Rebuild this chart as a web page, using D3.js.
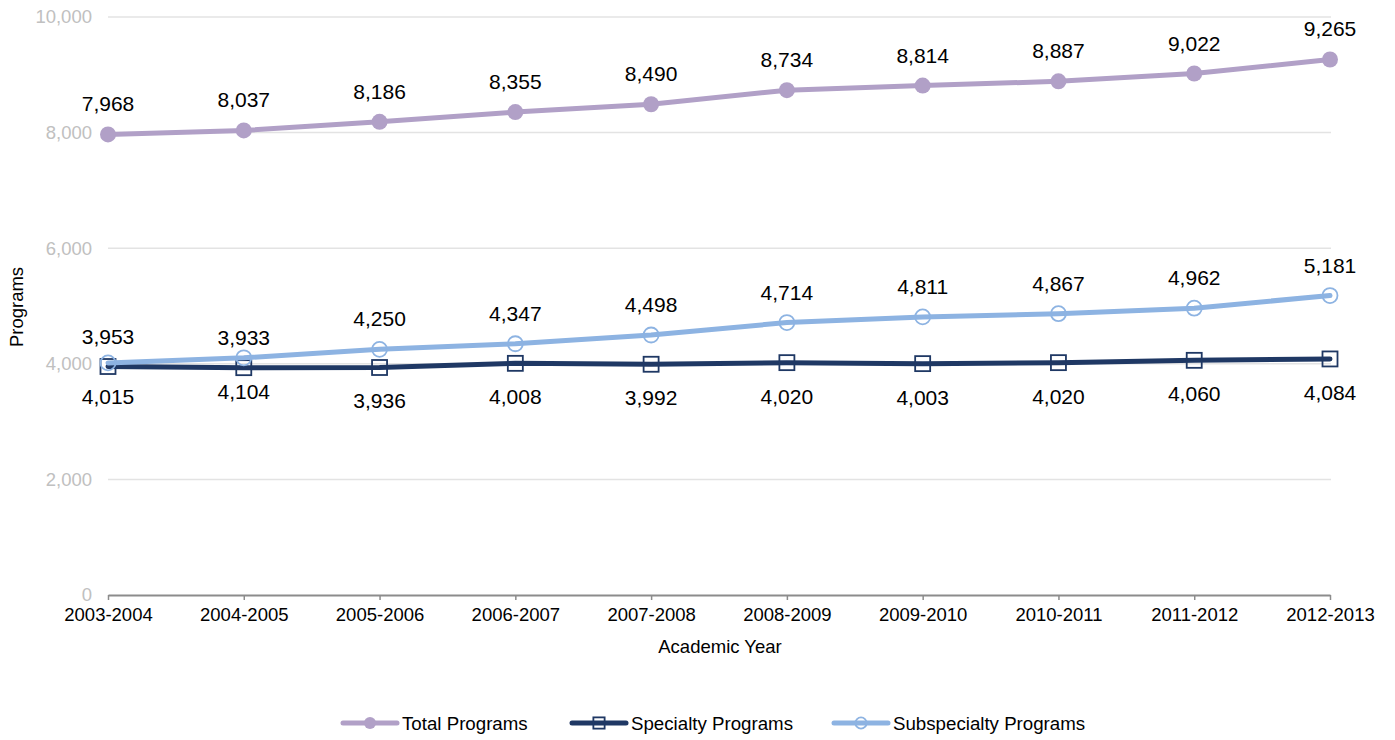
<!DOCTYPE html>
<html><head><meta charset="utf-8">
<script src="https://cdn.jsdelivr.net/npm/d3@7"></script>
<style>body{margin:0;background:#fff}text{font-family:"Liberation Sans",Arial,sans-serif}</style>
</head><body><svg id="c" width="1395" height="740"></svg>
<script>
const years = ["2003-2004","2004-2005","2005-2006","2006-2007","2007-2008","2008-2009","2009-2010","2010-2011","2011-2012","2012-2013"];
const totalPrograms = [7968,8037,8186,8355,8490,8734,8814,8887,9022,9265];
const specialtyPrograms = [3953,3933,3936,4008,3992,4020,4003,4020,4060,4084];
const subspecialtyPrograms = [4015,4104,4250,4347,4498,4714,4811,4867,4962,5181];
// label placement: "a" above, "b" below
const specialtyLabelPos = ["a","a","b","b","b","b","b","b","b","b"];
const subspecialtyLabelPos = ["b","b","a","a","a","a","a","a","a","a"];
const yTicks = [0,2000,4000,6000,8000,10000];

const svg = d3.select("#c");
const x = d3.scalePoint().domain(years).range([108,1330]);
const y = d3.scaleLinear().domain([0,10000]).range([595,17]);
const FONT = "Liberation Sans, Arial, sans-serif";

// gridlines
svg.append("g").selectAll("line").data(yTicks.filter(d=>d>0)).join("line")
  .attr("x1",108).attr("x2",1331).attr("y1",d=>y(d)).attr("y2",d=>y(d))
  .attr("stroke","#e3e3e3").attr("stroke-width",1.5);

// y axis
const ya = svg.append("g").attr("transform","translate(108,0)")
  .call(d3.axisLeft(y).tickValues(yTicks).tickFormat(d3.format(",")).tickSize(0).tickPadding(16));
ya.select(".domain").remove();
ya.selectAll("text").attr("fill","#c0c0c0").style("font-size","18.5px").style("font-family",FONT);

// x axis
const xa = svg.append("g").attr("transform","translate(0,595)")
  .call(d3.axisBottom(x).tickSize(5).tickPadding(8).tickSizeOuter(0));
xa.select(".domain").attr("stroke","#8c8c8c").attr("stroke-width",2);
xa.selectAll(".tick line").attr("stroke","#8c8c8c").attr("stroke-width",1.5);
xa.selectAll("text").attr("fill","#000").style("font-size","18.5px").style("font-family",FONT);

svg.append("text").attr("x",720).attr("y",653).attr("text-anchor","middle").style("font-size","18.5px").text("Academic Year");
svg.append("text").attr("transform","translate(23,307) rotate(-90)").attr("text-anchor","middle").style("font-size","18.5px").text("Programs");

const line = d3.line().x((d,i)=>x(years[i])).y(d=>y(d));
const fmt = d3.format(",");

const series = [
  {name:"Specialty Programs", vals:specialtyPrograms, color:"#1f3864", marker:"square", pos:specialtyLabelPos},
  {name:"Subspecialty Programs", vals:subspecialtyPrograms, color:"#8db3e2", marker:"ocircle", pos:subspecialtyLabelPos},
  {name:"Total Programs", vals:totalPrograms, color:"#b1a0c7", marker:"circle", pos:totalPrograms.map(()=> "a")}
];

function drawMarker(g, type, color, cx, cy, scale){
  scale = scale||1;
  if(type==="circle"){
    g.append("circle").attr("cx",cx).attr("cy",cy).attr("r",8*scale).attr("fill",color);
  } else if(type==="ocircle"){
    g.append("circle").attr("cx",cx).attr("cy",cy).attr("r",7.5*scale).attr("fill","none").attr("stroke",color).attr("stroke-width",1.8);
  } else {
    const s=15*scale;
    g.append("rect").attr("x",cx-s/2).attr("y",cy-s/2).attr("width",s).attr("height",s).attr("fill","none").attr("stroke",color).attr("stroke-width",1.8);
  }
}

series.forEach(s=>{
  const g = svg.append("g");
  g.append("path").attr("d",line(s.vals)).attr("fill","none").attr("stroke",s.color).attr("stroke-width",5).attr("stroke-linejoin","round").attr("stroke-linecap","round");
  s.vals.forEach((v,i)=>drawMarker(g,s.marker,s.color,x(years[i]),y(v)));
  s.vals.forEach((v,i)=>{
    const above = s.pos[i]==="a";
    g.append("text").attr("x",x(years[i])).attr("y",y(v)+(above?-23:41))
      .attr("text-anchor","middle").style("font-size","21px").attr("fill","#000").text(fmt(v));
  });
});

// legend
const legendItems = [
  {name:"Total Programs", color:"#b1a0c7", marker:"circle", x:343},
  {name:"Specialty Programs", color:"#1f3864", marker:"square", x:572},
  {name:"Subspecialty Programs", color:"#8db3e2", marker:"ocircle", x:834}
];
const lg = svg.append("g");
legendItems.forEach(it=>{
  lg.append("line").attr("x1",it.x).attr("x2",it.x+54).attr("y1",723).attr("y2",723).attr("stroke",it.color).attr("stroke-width",5).attr("stroke-linecap","round");
  drawMarker(lg,it.marker,it.color,it.x+27,723,0.75);
  lg.append("text").attr("x",it.x+59).attr("y",730).style("font-size","18.7px").text(it.name);
});
</script></body></html>
